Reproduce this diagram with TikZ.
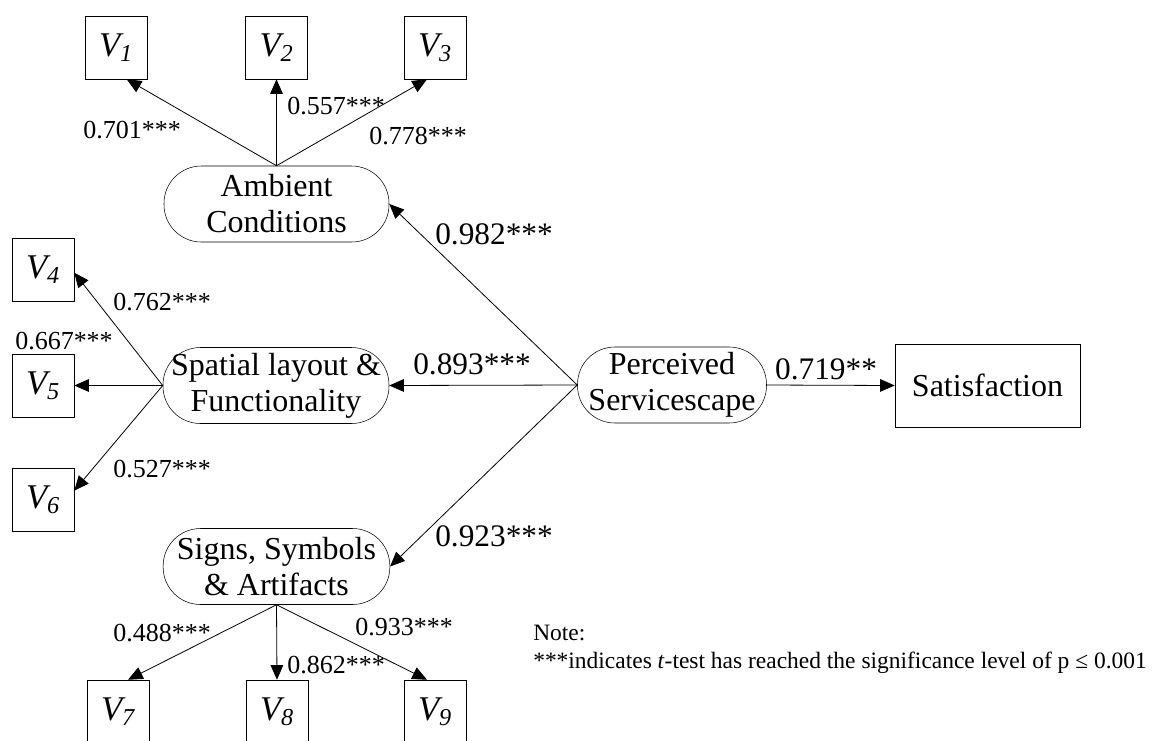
\documentclass[tikz,border=0pt]{standalone}
\usepackage{fontspec}
\setmainfont{Liberation Serif}
\usetikzlibrary{arrows.meta}

\begin{document}
\begin{tikzpicture}[x=0.75pt,y=-0.75pt,
		latent/.style={draw,rounded corners=28pt,minimum height=57pt,inner sep=0pt,align=center,font=\fontsize{24}{27}\selectfont},
		obs/.style={draw,minimum width=46.5pt,minimum height=47.25pt,inner sep=0pt,font=\fontsize{26}{28}\selectfont},
		loadlbl/.style={inner sep=0pt,font=\fontsize{19.5}{22}\selectfont},
		pathlbl/.style={inner sep=0pt,font=\fontsize{23.5}{26}\selectfont},
		arr/.style={line width=0.6pt,-{Triangle[length=11pt,width=9.5pt]}}]
		\useasboundingbox (0,0) rectangle (1157,740);
		% latent constructs
		\node [latent,minimum width=168.75pt] (amb) at (276.5,204) {Ambient\\Conditions};
		\node [latent,minimum width=169.5pt] (spa) at (276,385.5) {Spatial layout \&\\Functionality};
		\node [latent,minimum width=170pt] (sig) at (276.5,566.5) {Signs, Symbols\\\& Artifacts};
		\node [latent,minimum width=141.75pt] (per) at (672,385) {Perceived\\Servicescape};
		\node [draw,minimum width=138.75pt,minimum height=62.25pt,font=\fontsize{24}{27}\selectfont] (sat) at (987.5,385.5) {Satisfaction};
		% indicators
		\node [obs] (v1) at (116,47.5) {\textit{V\textsubscript{1}}};
		\node [obs] (v2) at (276.5,47.5) {\textit{V\textsubscript{2}}};
		\node [obs] (v3) at (435,47.5) {\textit{V\textsubscript{3}}};
		\node [obs] (v4) at (43,270) {\textit{V\textsubscript{4}}};
		\node [obs] (v5) at (43,385.5) {\textit{V\textsubscript{5}}};
		\node [obs] (v6) at (43,500) {\textit{V\textsubscript{6}}};
		\node [obs] (v7) at (118,711.5) {\textit{V\textsubscript{7}}};
		\node [obs] (v8) at (277,711.5) {\textit{V\textsubscript{8}}};
		\node [obs] (v9) at (435,711.5) {\textit{V\textsubscript{9}}};
		% loadings
		\draw [arr] (amb.north) -- ([xshift=8pt]v1.south);
		\draw [arr] (amb.north) -- (v2.south);
		\draw [arr] (amb.north) -- ([xshift=-6pt]v3.south);
		\draw [arr] (spa.west) -- ([yshift=-2pt]v4.east);
		\draw [arr] (spa.west) -- (v5.east);
		\draw [arr] (spa.west) -- ([yshift=7pt]v6.east);
		\draw [arr] (sig.south) -- ([xshift=7.5pt]v7.north);
		\draw [arr] (sig.south) -- (v8.north);
		\draw [arr] (sig.south) -- ([xshift=-6pt]v9.north);
		% paths
		\draw [arr] (per.west) -- (amb.east);
		\draw [arr] (per.west) -- (spa.east);
		\draw [arr] (per.west) -- (sig.east);
		\draw [arr] (per.east) -- (sat.west);
		% labels
		\node [loadlbl] (l1) at (132,130) {0.701***};
		\node [loadlbl] (l2) at (336,106) {0.557***};
		\node [loadlbl] (l3) at (418,136) {0.778***};
		\node [loadlbl] (l4) at (162,302) {0.762***};
		\node [loadlbl] (l5) at (64,341) {0.667***};
		\node [loadlbl] (l6) at (162,469) {0.527***};
		\node [loadlbl] (l7) at (162,633) {0.488***};
		\node [loadlbl] (l8) at (336,665) {0.862***};
		\node [loadlbl] (l9) at (404,627) {0.933***};
		\node [pathlbl] (p1) at (494,234) {0.982***};
		\node [pathlbl] (p2) at (472,364) {0.893***};
		\node [pathlbl] (p3) at (494,536) {0.923***};
		\node [pathlbl] (p4) at (826,369) {0.719**};
		% note
		\node [anchor=base west,inner sep=0pt,font=\fontsize{17.6}{20}\selectfont] (note) at (533,640) {Note:};
		\node [anchor=base west,inner sep=0pt,font=\fontsize{17.6}{20}\selectfont] (notetxt) at (533,668) {***indicates \textit{t}-test has reached the significance level of p ≤ 0.001};
	\end{tikzpicture}
\end{document}
